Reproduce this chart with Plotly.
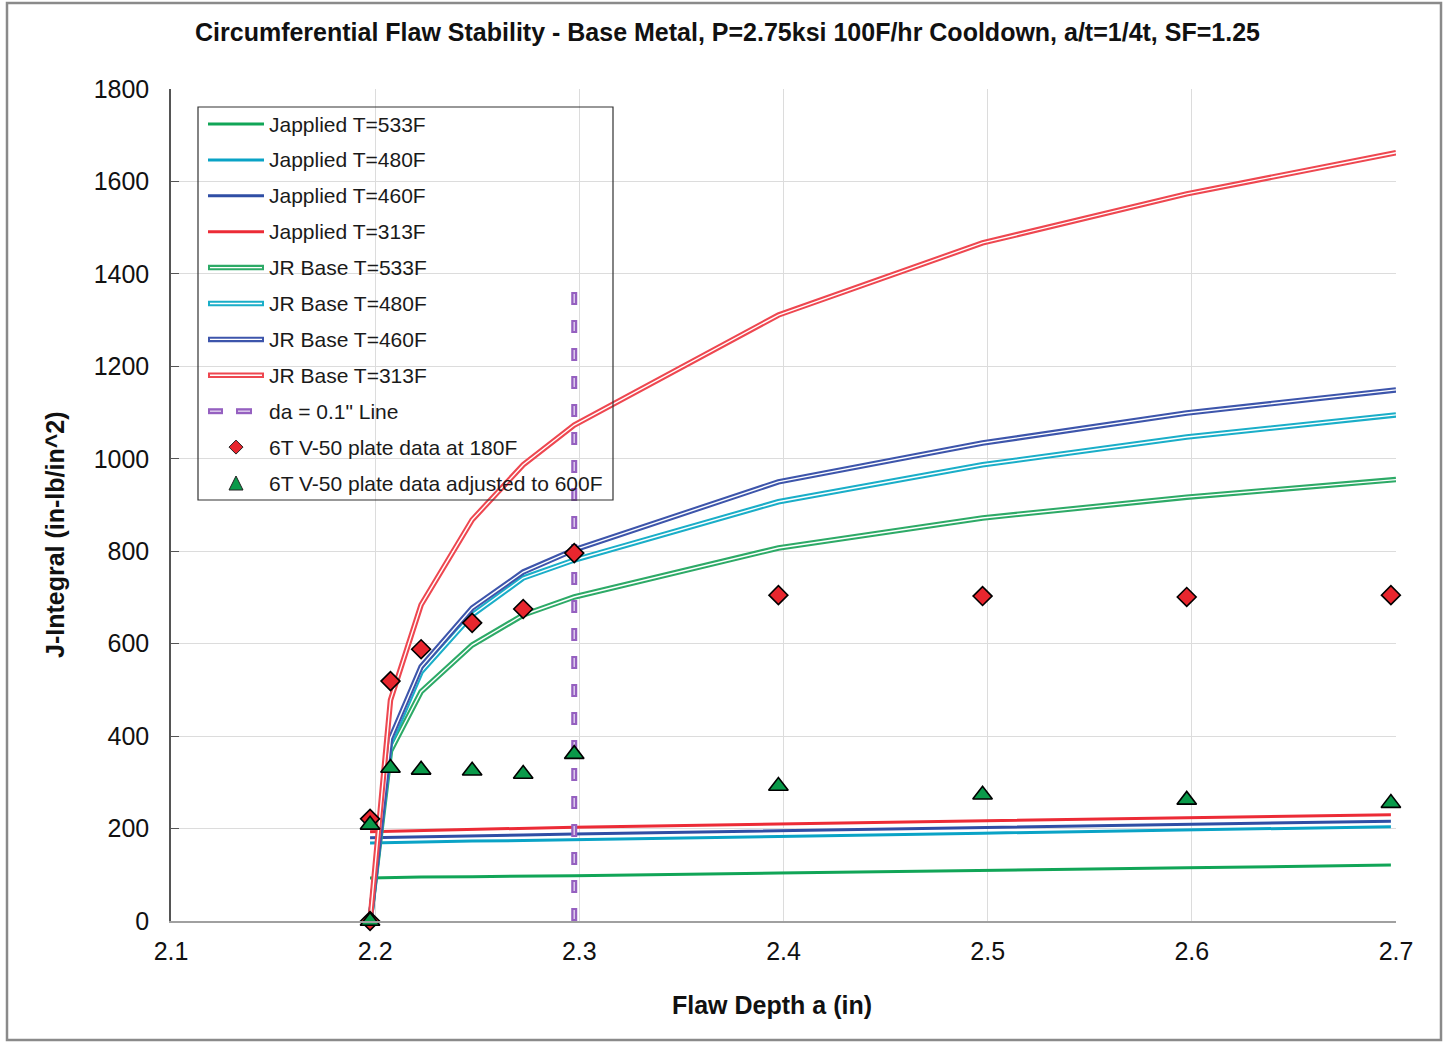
import plotly.graph_objects as go

# ---- data -------------------------------------------------------------
# flaw depth points (a0 = 2.1975 in plus crack extension)
jr_depth = [2.1975, 2.2075, 2.2225, 2.2475, 2.2725, 2.2975, 2.3975, 2.4975, 2.5975, 2.70]
app_depth = [2.1975, 2.2075, 2.2225, 2.2475, 2.2725, 2.2975, 2.3975, 2.4975, 2.5975, 2.6975]
plate_depth = [2.1975, 2.1975, 2.2075, 2.2225, 2.2475, 2.2725, 2.2975, 2.3975, 2.4975, 2.5975, 2.6975]

# applied J at each temperature
j_app_533 = [93, 94, 95, 96, 97, 98, 104, 109, 115, 121]
j_app_480 = [169, 170, 171, 173, 174, 176, 183, 190, 197, 204]
j_app_460 = [180, 181, 182, 184, 186, 188, 195, 202, 209, 216]
j_app_313 = [193, 194, 196, 198, 200, 203, 210, 217, 223, 230]

# JR resistance curves, base metal
jr_533 = [0, 368, 496, 597, 662, 701, 807, 872, 917, 955]
jr_480 = [0, 385, 539, 662, 742, 781, 907, 987, 1047, 1095]
jr_460 = [0, 395, 550, 677, 755, 803, 950, 1034, 1099, 1149]
jr_313 = [0, 478, 684, 868, 987, 1073, 1311, 1467, 1573, 1662]

# plate data
plate_180f = [0, 221, 519, 588, 645, 675, 796, 705, 703, 701, 705]
plate_600f = [0, 208, 331, 327, 325, 318, 361, 292, 273, 262, 255]

# da = 0.1" reference line
da_line_x = [2.2975, 2.2975]
da_line_y = [0, 1375]

x_ticks = [2.1, 2.2, 2.3, 2.4, 2.5, 2.6, 2.7]
x_tick_text = ["2.1", "2.2", "2.3", "2.4", "2.5", "2.6", "2.7"]
y_ticks = [0, 200, 400, 600, 800, 1000, 1200, 1400, 1600, 1800]

title_text = ("Circumferential Flaw Stability - Base Metal, P=2.75ksi 100F/hr Cooldown, "
              "a/t=1/4t, SF=1.25")

# ---- styling ----------------------------------------------------------
FONT = "Liberation Sans, Arial, sans-serif"
GREEN = "#11a557"
CYAN = "#0aa3c6"
BLUE = "#2f4ea5"
RED = "#ec2b36"
JR_GREEN = "#2daa67"
JR_CYAN = "#1aaec8"
JR_BLUE = "#3d55ab"
JR_RED = "#ee4750"
PURPLE = "#9560c0"
PURPLE_CORE = "#dccbec"

FIG_W, FIG_H = 1445, 1045
L, R, T, B = 171, 49, 89, 124
PW, PH = FIG_W - L - R, FIG_H - T - B


def px(x):
    return (x - L) / PW


def py(y):
    return (FIG_H - B - y) / PH


fig = go.Figure()

applied = [(j_app_533, GREEN), (j_app_480, CYAN), (j_app_460, BLUE), (j_app_313, RED)]
for vals, col in applied:
    fig.add_trace(go.Scatter(x=app_depth, y=vals, mode="lines",
                             line=dict(color=col, width=3), showlegend=False))

jr_sets = [(jr_533, JR_GREEN), (jr_480, JR_CYAN), (jr_460, JR_BLUE), (jr_313, JR_RED)]
for vals, col in jr_sets:
    fig.add_trace(go.Scatter(x=jr_depth, y=vals, mode="lines",
                             line=dict(color=col, width=5.5), showlegend=False))
    fig.add_trace(go.Scatter(x=jr_depth, y=vals, mode="lines",
                             line=dict(color="white", width=1.4), showlegend=False))

# dashed da line: purple outline dashes with a pale core
dash_off = 2 * 1800 / PH
fig.add_trace(go.Scatter(x=da_line_x, y=da_line_y, mode="lines",
                         line=dict(color=PURPLE, width=6, dash="13px,15px"),
                         showlegend=False))
fig.add_trace(go.Scatter(x=da_line_x, y=[da_line_y[0] + dash_off, da_line_y[1]], mode="lines",
                         line=dict(color=PURPLE_CORE, width=1.5, dash="9px,19px"),
                         showlegend=False))

fig.add_trace(go.Scatter(x=plate_depth, y=plate_180f, mode="markers", cliponaxis=False,
                         marker=dict(symbol="diamond", size=14.5, color="#e8262e",
                                     line=dict(color="black", width=1.6)),
                         showlegend=False))
fig.add_trace(go.Scatter(x=plate_depth, y=plate_600f, mode="markers", cliponaxis=False,
                         marker=dict(symbol="triangle-up", size=17, color="#0a9a4a",
                                     line=dict(color="black", width=1.6)),
                         showlegend=False))

# ---- legend drawn as shapes + text ------------------------------------
shapes = []
annotations = []
shapes.append(dict(type="rect", xref="paper", yref="paper",
                   x0=px(198), x1=px(613), y0=py(107), y1=py(500),
                   line=dict(color="#333", width=1.2), fillcolor="rgba(0,0,0,0)"))

legend_items = [
    ("line", GREEN, "Japplied T=533F"),
    ("line", CYAN, "Japplied T=480F"),
    ("line", BLUE, "Japplied T=460F"),
    ("line", RED, "Japplied T=313F"),
    ("double", JR_GREEN, "JR Base T=533F"),
    ("double", JR_CYAN, "JR Base T=480F"),
    ("double", JR_BLUE, "JR Base T=460F"),
    ("double", JR_RED, "JR Base T=313F"),
    ("dash", PURPLE, "da = 0.1\" Line"),
    ("diamond", "#e8262e", "6T V-50 plate data at 180F"),
    ("triangle", "#0a9a4a", "6T V-50 plate data adjusted to 600F"),
]
y0_leg, dy_leg = 124, 35.9
for i, (kind, col, label) in enumerate(legend_items):
    yc = y0_leg + i * dy_leg
    if kind == "line":
        shapes.append(dict(type="line", xref="paper", yref="paper",
                           x0=px(208), x1=px(264), y0=py(yc), y1=py(yc),
                           line=dict(color=col, width=3)))
    elif kind == "double":
        shapes.append(dict(type="line", xref="paper", yref="paper",
                           x0=px(208), x1=px(264), y0=py(yc), y1=py(yc),
                           line=dict(color=col, width=5.5)))
        shapes.append(dict(type="line", xref="paper", yref="paper",
                           x0=px(210), x1=px(262), y0=py(yc), y1=py(yc),
                           line=dict(color="white", width=1.4)))
    elif kind == "dash":
        for a, b in [(208, 223), (236, 252)]:
            shapes.append(dict(type="line", xref="paper", yref="paper",
                               x0=px(a), x1=px(b), y0=py(yc), y1=py(yc),
                               line=dict(color=col, width=6)))
            shapes.append(dict(type="line", xref="paper", yref="paper",
                               x0=px(a + 2), x1=px(b - 2), y0=py(yc), y1=py(yc),
                               line=dict(color=PURPLE_CORE, width=1.5)))
    elif kind == "diamond":
        cx, h = 236, 7
        path = (f"M {px(cx)},{py(yc - h)} L {px(cx + h)},{py(yc)} "
                f"L {px(cx)},{py(yc + h)} L {px(cx - h)},{py(yc)} Z")
        shapes.append(dict(type="path", xref="paper", yref="paper", path=path,
                           fillcolor=col, line=dict(color="#222", width=1)))
    elif kind == "triangle":
        cx, h = 236, 7
        path = (f"M {px(cx)},{py(yc - h)} L {px(cx + h)},{py(yc + h)} "
                f"L {px(cx - h)},{py(yc + h)} Z")
        shapes.append(dict(type="path", xref="paper", yref="paper", path=path,
                           fillcolor=col, line=dict(color="#222", width=1)))
    annotations.append(dict(xref="paper", yref="paper", x=px(267), y=py(yc),
                            xanchor="left", yanchor="middle", showarrow=False,
                            text=label, font=dict(family=FONT, size=21, color="#1a1a1a")))

# outer chart frame
shapes.append(dict(type="rect", xref="paper", yref="paper",
                   x0=px(7), x1=px(1441), y0=py(3), y1=py(1040),
                   line=dict(color="#8a8a8a", width=2.5), fillcolor="rgba(0,0,0,0)",
                   layer="below"))

# title and axis titles
annotations.append(dict(xref="paper", yref="paper", x=px(727), y=py(32),
                        xanchor="center", yanchor="middle", showarrow=False,
                        text=f"<b>{title_text}</b>",
                        font=dict(family=FONT, size=25, color="#111")))
annotations.append(dict(xref="paper", yref="paper", x=px(772), y=py(1005),
                        xanchor="center", yanchor="middle", showarrow=False,
                        text="<b>Flaw Depth a (in)</b>",
                        font=dict(family=FONT, size=25, color="#111")))
annotations.append(dict(xref="paper", yref="paper", x=px(55), y=py(535),
                        xanchor="center", yanchor="middle", showarrow=False, textangle=-90,
                        text="<b>J-Integral (in-lb/in^2)</b>",
                        font=dict(family=FONT, size=25, color="#111")))

fig.update_layout(
    width=FIG_W, height=FIG_H,
    margin=dict(l=L, r=R, t=T, b=B),
    paper_bgcolor="white", plot_bgcolor="white",
    font=dict(family=FONT, color="#111"),
    shapes=shapes, annotations=annotations,
    showlegend=False,
)
fig.update_xaxes(range=[2.1, 2.7], tickvals=x_ticks, ticktext=x_tick_text,
                 showgrid=True, gridcolor="#dcdcdc", gridwidth=1,
                 showline=True, linecolor="#a0a0a0", linewidth=2,
                 ticks="", ticklabelstandoff=7,
                 tickfont=dict(family=FONT, size=25, color="#111"), zeroline=False)
fig.update_yaxes(range=[0, 1800], tickvals=y_ticks,
                 showgrid=True, gridcolor="#dcdcdc", gridwidth=1,
                 showline=True, linecolor="#555", linewidth=1.5,
                 ticks="inside", ticklen=8, tickcolor="#555", ticklabelstandoff=15,
                 tickfont=dict(family=FONT, size=25, color="#111"), zeroline=False)

fig.write_html("out.html")
